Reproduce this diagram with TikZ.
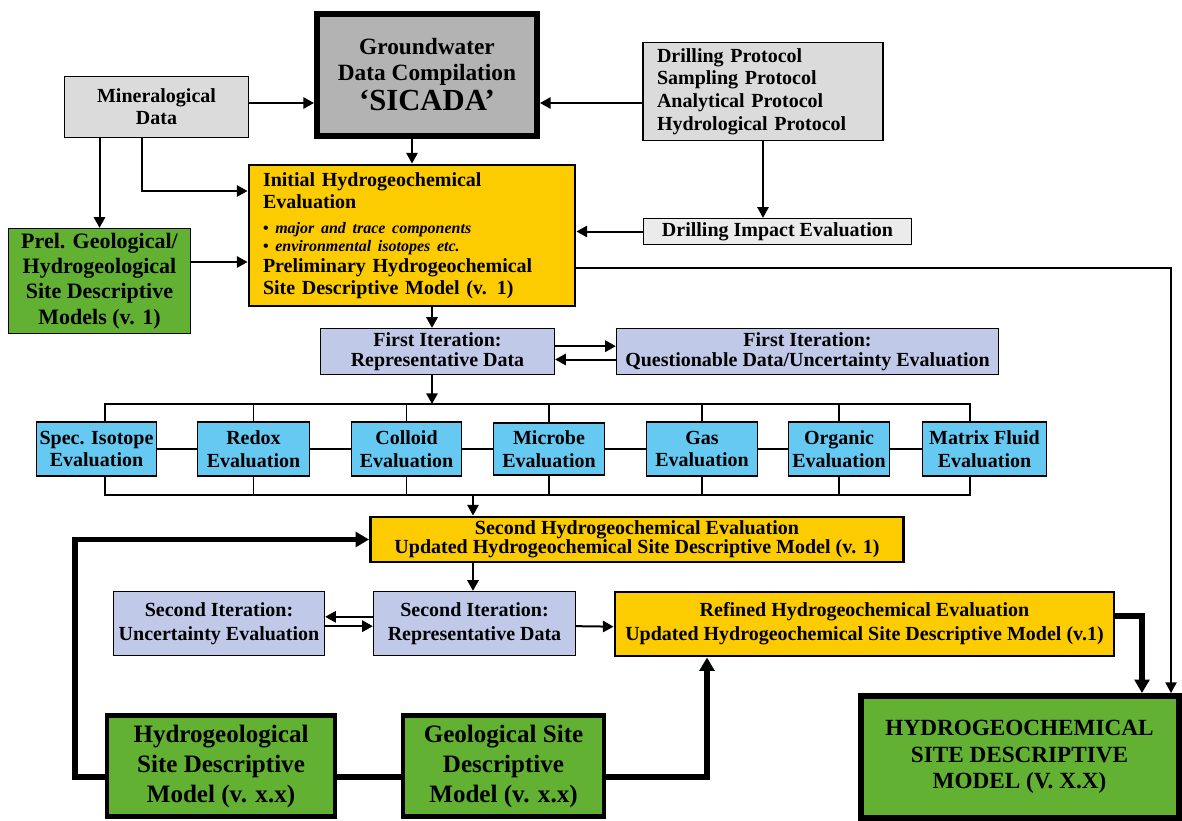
\documentclass[tikz,border=0pt]{standalone}
\usepackage{fontspec}
\setmainfont{Liberation Serif}
\usetikzlibrary{arrows.meta,calc}

\definecolor{sicadagray}{HTML}{B3B3B3}
\definecolor{protogray}{HTML}{DBDBDB}
\definecolor{impactgray}{HTML}{EBEBEB}
\definecolor{evalgold}{HTML}{FCCB00}
\definecolor{sitegreen}{HTML}{63B133}
\definecolor{evalblue}{HTML}{66C9F2}
\definecolor{iterblue}{HTML}{C1C9E9}

\tikzset{
	dim/.style 2 args={minimum width=#1*0.75pt, minimum height=#2*0.75pt},
	fs/.style 2 args={font=\bfseries\fontsize{#1}{#2}\selectfont},
	box/.style={draw, inner sep=0pt, align=center, line width=1pt, fs={15}{16.5}},
	graybox/.style={box, fill=protogray},
	goldbox/.style={box, fill=evalgold, line width=2.2pt},
	iterbox/.style={box, fill=iterblue, fs={15}{15}},
	evalbox/.style={box, fill=evalblue, line width=1.2pt, fs={15}{17}},
	sitebox/.style={box, fill=sitegreen, line width=3.5pt, fs={18.8}{22.5}},
	link/.style={line width=1.5pt, -{Triangle[length=8pt,width=8.5pt]}},
	slimlink/.style={line width=1pt, -{Triangle[length=8pt,width=8.5pt]}},
	buswire/.style={line width=0.8pt},
	heavy/.style={line width=3.8pt},
	heavyarrow/.style={heavy, -{Triangle[length=10pt,width=11pt]}},
}

\begin{document}
\begin{tikzpicture}[x=0.75pt, y=-0.75pt]
	%%%%% START %%%%%
	\useasboundingbox (0,0) rectangle (1182,821);

	% top row
	\node[box, dim={220}{122}, fill=sicadagray, line width=4.5pt, fs={17.5}{19.5}] (sicada) at (427,75)
		{Groundwater\\Data Compilation\\[3pt]{\fontsize{23}{24}\selectfont ‘SICADA’}};
	\node[graybox, dim={184}{61}] (mineral) at (156.5,107) {Mineralogical\\Data};
	\node[graybox, dim={240}{98}, text width=159pt, align=left, fs={15}{17}] (protocol) at (763,91.5)
		{Drilling Protocol\\Sampling Protocol\\Analytical Protocol\\Hydrological Protocol};

	% initial evaluation
	\node[goldbox, dim={326}{141}, text width=223.5pt, align=left, fs={15}{16.5}] (initial) at (412,235.5)
		{Initial Hydrogeochemical\\Evaluation\\[2.25pt]
		{\fontsize{12}{12}\selectfont •~\textit{major and trace components}}\\[-3pt]
		{\fontsize{12}{12}\selectfont • \textit{environmental isotopes etc.}}\\[-0.75pt]
		Preliminary Hydrogeochemical\\Site Descriptive Model (v. 1)};
	\node[box, dim={182}{105}, fill=sitegreen, fs={16.5}{19}] (prel) at (99.5,281)
		{Prel. Geological/\\Hydrogeological\\Site Descriptive\\Models (v. 1)};
	\node[box, dim={268}{26}, fill=impactgray] (impact) at (777.5,231.5) {Drilling Impact Evaluation};

	% first iteration
	\node[iterbox, dim={234}{46}] (rep1) at (437.5,351.5) {First Iteration:\\Representative Data};
	\node[iterbox, dim={382}{46}] (quest) at (807.5,351.5)
		{First Iteration:\\Questionable Data/Uncertainty Evaluation};

	\node[evalbox, dim={120}{54}] (spec) at (96.5,449) {Spec. Isotope\\Evaluation};
	\node[evalbox, dim={112}{54}] (redox) at (253.5,449) {Redox\\Evaluation};
	\node[evalbox, dim={110}{54}] (colloid) at (406.5,449) {Colloid\\Evaluation};
	\node[evalbox, dim={111}{52}] (microbe) at (549,449) {Microbe\\Evaluation};
	\node[evalbox, dim={111}{54}] (gas) at (702,449) {Gas\\Evaluation};
	\node[evalbox, dim={101}{54}] (organic) at (839,449) {Organic\\Evaluation};
	\node[evalbox, dim={124}{54}] (matrix) at (984.5,449) {Matrix Fluid\\Evaluation};

	% second iteration
	\node[goldbox, dim={533}{45}, fs={15}{14.5}] (second) at (637,539.5)
		{Second Hydrogeochemical Evaluation\\Updated Hydrogeochemical Site Descriptive Model (v. 1)};
	\node[iterbox, dim={211}{64}, fs={15}{18}] (unc2) at (219,623.5) {Second Iteration:\\Uncertainty Evaluation};
	\node[iterbox, dim={202}{64}, fs={15}{18}] (rep2) at (474.5,623.5) {Second Iteration:\\Representative Data};
	\node[goldbox, dim={499}{64}, fs={15}{18}] (refined) at (864.5,624)
		{Refined Hydrogeochemical Evaluation\\Updated Hydrogeochemical Site Descriptive Model (v.1)};

	% site models
	\node[sitebox, dim={228}{101}] (hydromod) at (221,766) {Hydrogeological\\Site Descriptive\\Model (v. x.x)};
	\node[sitebox, dim={201}{101}] (geomod) at (503.5,766) {Geological Site\\Descriptive\\Model (v. x.x)};
	\node[sitebox, dim={318}{122}, line width=4.5pt, fs={17.4}{20}] (final) at (1019.5,757)
		{HYDROGEOCHEMICAL\\SITE DESCRIPTIVE\\MODEL (V. X.X)};

	% helper points
	\coordinate (inSic) at (600,103);
	\coordinate (mfork) at (142,191);
	\coordinate (prelOut) at (0,262);
	\coordinate (sideR) at (1171,268);
	\coordinate (colA) at (432,0);
	\coordinate (colB) at (473,0);
	\coordinate (busTL) at (105,404);
	\coordinate (busTR) at (970,404);
	\coordinate (busBL) at (105,495);
	\coordinate (busBR) at (970,495);
	\coordinate (lowRow) at (0,777);
	\coordinate (leftRail) at (75,0);
	\coordinate (upRail) at (707,0);
	\coordinate (rightRail) at (1142,616);

	% connectors, top part
	\draw[link] (mineral.east |- inSic) -- (sicada.west |- inSic);
	\draw[link] (protocol.west |- inSic) -- (sicada.east |- inSic);
	\draw[link] (sicada.south -| initial.north) -- (initial.north);
	\draw[link] (mineral.south -| prel.north) -- (prel.north);
	\draw[link] (mineral.south -| mfork) |- (initial.west |- mfork);
	\draw[link] (prel.east |- prelOut) -- (initial.west |- prelOut);
	\draw[slimlink] (protocol.south) -- (protocol.south |- impact.north);
	\draw[link] (impact.west) -- (impact.west -| initial.east);
	\draw[slimlink] (initial.east |- sideR) -| (final.north -| sideR);

	% first iteration
	\draw[link] (initial.south -| colA) -- (rep1.north -| colA);
	\draw[link] ([yshift=4pt]rep1.east) -- ([yshift=4pt]quest.west);
	\draw[link] ([yshift=-6pt]quest.west) -- ([yshift=-6pt]rep1.east);
	\draw[link] (rep1.south -| colA) -- (busTL -| colA);

	% bus round the evaluations
	\draw[buswire] (spec.north -| busTL) -- (busTL) -- (busTR) -- (matrix.north -| busTR);
	\draw[buswire] (redox.north) -- (redox.north |- busTL);
	\draw[buswire] (colloid.north) -- (colloid.north |- busTL);
	\draw[buswire] (microbe.north) -- (microbe.north |- busTL);
	\draw[buswire] (gas.north) -- (gas.north |- busTL);
	\draw[buswire] (organic.north) -- (organic.north |- busTL);
	\draw[buswire] (spec.south -| busBL) -- (busBL) -- (busBR) -- (matrix.south -| busBR);
	\draw[buswire] (redox.south) -- (redox.south |- busBL);
	\draw[buswire] (colloid.south) -- (colloid.south |- busBL);
	\draw[buswire] (microbe.south) -- (microbe.south |- busBL);
	\draw[buswire] (gas.south) -- (gas.south |- busBL);
	\draw[buswire] (organic.south) -- (organic.south |- busBL);
	\draw[buswire] (spec.east) -- (redox.west);
	\draw[buswire] (redox.east) -- (colloid.west);
	\draw[buswire] (colloid.east) -- (microbe.west);
	\draw[buswire] (microbe.east) -- (gas.west);
	\draw[buswire] (gas.east) -- (organic.west);
	\draw[buswire] (organic.east) -- (matrix.west);

	% second iteration
	\draw[link] (busBL -| colB) -- (second.north -| colB);
	\draw[link] (second.south -| colB) -- (rep2.north -| colB);
	\draw[link] ([yshift=5pt]rep2.west) -- ([yshift=5pt]unc2.east);
	\draw[link] ([yshift=-2pt]unc2.east) -- ([yshift=-2pt]rep2.west);
	\draw[link] ([yshift=-2pt]rep2.east) -- ([yshift=-2pt]refined.west);

	% heavy links
	\draw[heavyarrow] (hydromod.west |- lowRow) -| (leftRail |- second.west) -- (second.west);
	\draw[heavy] (hydromod.east |- lowRow) -- (geomod.west |- lowRow);
	\draw[heavyarrow] (geomod.east |- lowRow) -| (refined.south -| upRail);
	\draw[heavyarrow] (refined.east |- rightRail) -| (final.north -| rightRail);

	%%%%% END %%%%%
\end{tikzpicture}
\end{document}
